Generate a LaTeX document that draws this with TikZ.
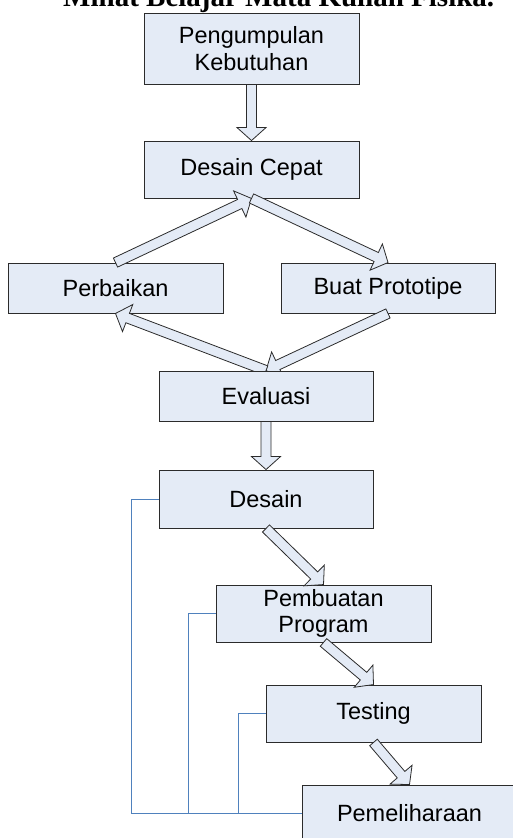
\documentclass[tikz,border=0pt]{standalone}
\usepackage{fontspec}
\setmainfont{Liberation Sans}
\newfontfamily\titleserif{Liberation Serif}
\usetikzlibrary{calc}
\pgfdeclarelayer{front}
\pgfsetlayers{main,front}
\definecolor{boxfill}{HTML}{E4EBF6}
\definecolor{linkblue}{HTML}{4F81BD}
\definecolor{boxline}{HTML}{2B2B2B}
\tikzset{
  box/.style={draw=boxline, line width=0.9pt, fill=boxfill, inner sep=2pt, align=center,
    font=\fontsize{23.5}{26.7}\selectfont, minimum width=215pt, minimum height=57pt},
  barr/.style={draw=boxline, line width=0.8pt, fill=boxfill, line join=miter},
  link/.style={draw=linkblue, line width=1pt},
}
\newcommand\blockarrow[2]{%
  \path ($(#2)!13pt!(#1)$) coordinate (hb);
  \draw[barr] ($(#1)!5pt!90:(#2)$) -- ($(hb)!5pt!90:(#2)$) -- ($(hb)!14.5pt!90:(#2)$) -- (#2)
    -- ($(hb)!14.5pt!-90:(#2)$) -- ($(hb)!5pt!-90:(#2)$) -- ($(#1)!5pt!-90:(#2)$) -- cycle;}
\begin{document}
\begin{tikzpicture}[x=1pt,y=-1pt]
\useasboundingbox (0,0) rectangle (513,838);
\clip (0,0) rectangle (513,838);
\node[anchor=base west, inner sep=0, font=\titleserif\bfseries\fontsize{29}{30}\selectfont] (title) at (63,6) {Minat Belajar Mata Kuliah Fisika.};
\node[box, minimum height=71pt] (pk) at (251.5,48.5) {Pengumpulan\\Kebutuhan};
\node[box] (dc) at (251.5,169.5) {Desain Cepat};
\node[box, minimum height=50pt] (pb) at (115.5,288) {Perbaikan};
\node[box, minimum width=214pt, minimum height=50pt] (bp) at (388,288) {Buat Prototipe};
\begin{pgfonlayer}{front}
\node[box, minimum width=214pt, minimum height=50pt] (ev) at (266,396) {Evaluasi};
\end{pgfonlayer}
\node[box, minimum width=214pt, minimum height=58pt] (ds) at (266,499) {Desain};
\node[box] (pp) at (323.5,613.5) {Pembuatan\\Program};
\node[box] (ts) at (373.5,713.5) {Testing};
\node[box] (pm) at (409.5,813.5) {Pemeliharaan};
% feedback links
\draw[link] (ds.west) -- ++(-27,0) |- (pm.west);
\draw[link] (pp.west) -- ++(-27,0) |- (pm.west);
\draw[link] (ts.west) -- ++(-27,0) |- (pm.west);
% block arrows
\blockarrow{pk.south}{dc.north}
\blockarrow{pb.north}{dc.south}
\blockarrow{dc.south}{bp.north}
\blockarrow{bp.south}{ev.north}
\blockarrow{ev.north}{pb.south}
\blockarrow{ev.south}{ds.north}
\blockarrow{ds.south}{pp.north}
\blockarrow{pp.south}{ts.north}
\blockarrow{ts.south}{pm.north}
\end{tikzpicture}
\end{document}
